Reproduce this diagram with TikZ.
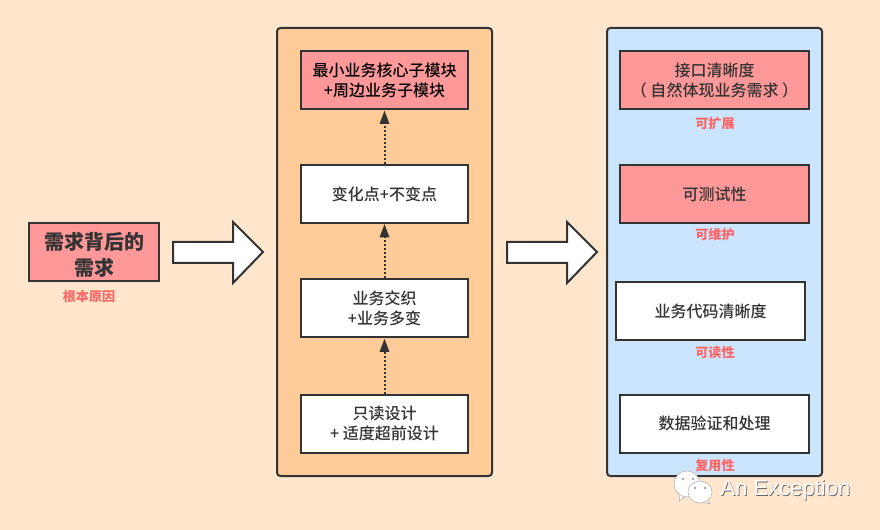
\documentclass[tikz,border=0pt]{standalone}
\usepackage{fontspec}
\setmainfont{Noto Sans CJK SC}
\newfontfamily\cjkmid{Noto Sans CJK SC Medium}
\newfontfamily\latinfont{Liberation Sans}
\usetikzlibrary{arrows.meta}
\definecolor{bgpage}{HTML}{FFE6CC}
\definecolor{inkdark}{HTML}{333333}
\definecolor{pinkbox}{HTML}{FF9999}
\definecolor{orangepanel}{HTML}{FFCC99}
\definecolor{bluepanel}{HTML}{CCE5FF}
\definecolor{notered}{HTML}{FF6666}
\tikzset{
	panel/.style={draw=inkdark, line width=1.5pt, rounded corners=2.5pt},
	box/.style={draw=inkdark, line width=1.5pt, fill=white, text=inkdark, align=center, inner sep=0pt, font=\fontsize{12}{14.5}\selectfont\cjkmid, minimum height=43.5pt},
	midbox/.style={box, minimum width=125.5pt},
	rightbox/.style={box, minimum width=141.5pt},
	note/.style={text=notered, inner sep=0pt, font=\fontsize{9.8}{11}\selectfont\bfseries},
	bigarrow/.style={draw=inkdark, line width=1.5pt, fill=white, line join=miter},
	flow/.style={draw=inkdark, line width=1.5pt, dash pattern=on 1.5pt off 1.5pt, -{Stealth[length=10pt,width=7pt,inset=0pt,sep=0pt]}},
	bubble/.style={fill=white, draw=black!30, line width=0.4pt}
}
\begin{document}
\begin{tikzpicture}[x=0.75pt, y=-0.75pt]
	\fill[bgpage] (0,0) rectangle (880,530);
	\useasboundingbox (0,0) rectangle (880,530);
	% panels
	\draw[panel, fill=orangepanel] (277,28) rectangle (492,476);
	\draw[panel, fill=bluepanel] (607,28) rectangle (822,476);
	% left box
	\node[box, fill=pinkbox, minimum width=97.5pt, font=\fontsize{15}{19.5}\selectfont\bfseries] (need) at (94,252) {\rule{0pt}{16.6pt}需求背后的\\需求};
	% big arrows
	\foreach \x in {173,507} {
		\draw[bigarrow] (\x,242) -- ++(60,0) -- ++(0,-20) -- ++(30,30) -- ++(-30,31) -- ++(0,-20) -- ++(-60,0) -- cycle;
	}
	% middle column
	\node[midbox, fill=pinkbox, text=black] (core) at (384.5,80.5) {最小业务核心子模块\\+周边业务子模块};
	\node[midbox] (change) at (384.5,194) {变化点+不变点};
	\node[midbox] (weave) at (384.5,308.5) {业务交织\\+业务多变};
	\node[midbox] (read) at (384.5,423.5) {只读设计\\+ 适度超前设计};
	\foreach \a/\b in {read/weave, weave/change, change/core} {
		\draw[flow] (\a) -- (\b);
	}
	% right column
	\node[rightbox, fill=pinkbox] (iface) at (714.5,80.5) {接口清晰度\\（ 自然体现业务需求 ）};
	\node[rightbox, fill=pinkbox] (test) at (714.5,194) {可测试性};
	\node[rightbox] (code) at (710.5,311) {业务代码清晰度};
	\node[rightbox] (data) at (714.5,423.5) {数据验证和处理};
	% red notes
	\node[note] (root) at (89,297) {根本原因};
	\node[note] (ext) at (715,124) {可扩展};
	\node[note] (keep) at (715,235) {可维护};
	\node[note] (rd) at (715,353) {可读性};
	\node[note] (reuse) at (715,466) {复用性};
	% watermark
	\draw[bubble] (680,495) -- (679,501) -- (686,496);
	\draw[bubble] (687,484) ellipse (13 and 13);
	\draw[bubble] (707,500) -- (710,504) -- (702,502);
	\draw[bubble] (700,492) ellipse (12 and 11);
	\foreach \x/\y in {683/479, 693/479, 695/488, 705/488} {
		\fill[black!45] (\x,\y) circle (1.1);
	}
	\node[text=black!60, inner sep=0pt, font=\latinfont\fontsize{16.5}{18}\selectfont] at (786.2,490.5) {An Exception};
	\node[text=white, inner sep=0pt, font=\latinfont\fontsize{16.5}{18}\selectfont] (mark) at (785.5,489.8) {An Exception};
\end{tikzpicture}
\end{document}
